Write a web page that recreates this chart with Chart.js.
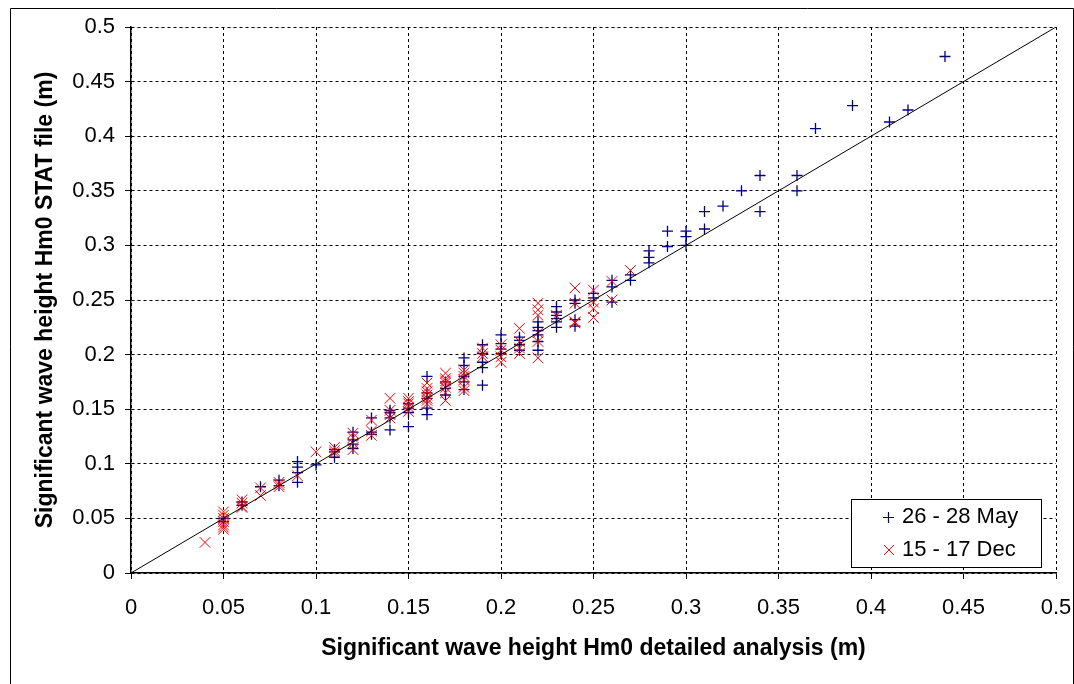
<!DOCTYPE html>
<html>
<head>
<meta charset="utf-8">
<script src="https://cdn.jsdelivr.net/npm/chart.js@4/dist/chart.umd.min.js"></script>
<style>
html,body{margin:0;padding:0;background:#fff;}
canvas{display:block;}
</style>
</head>
<body>
<canvas id="c" width="1074" height="684"></canvas>
<script>
// ---- Data ----
const seriesNames = ['26 - 28 May', '15 - 17 Dec'];
const xTickLabels = ['0','0.05','0.1','0.15','0.2','0.25','0.3','0.35','0.4','0.45','0.5'];
const yTickLabels = ['0','0.05','0.1','0.15','0.2','0.25','0.3','0.35','0.4','0.45','0.5'];
const xTitle = 'Significant wave height Hm0 detailed analysis (m)';
const yTitle = 'Significant wave height Hm0 STAT file (m)';

// 26 - 28 May: detailed analysis (x) vs STAT file (y)
const mayX = [0.05,0.05, 0.06,0.06, 0.07, 0.08,0.08, 0.09,0.09,0.09,0.09, 0.10,
  0.11,0.11,0.11, 0.12,0.12,0.12,0.12, 0.13,0.13,0.13, 0.14,0.14,0.14,0.14,
  0.15,0.15,0.15,0.15, 0.16,0.16,0.16,0.16,0.16, 0.17,0.17,0.17,
  0.18,0.18,0.18,0.18,0.18, 0.19,0.19,0.19,0.19,0.19, 0.20,0.20,0.20,0.20,
  0.21,0.21,0.21,0.21, 0.22,0.22,0.22,0.22,0.22,0.22, 0.23,0.23,0.23,0.23,0.23,0.23,
  0.24,0.24,0.24,0.24, 0.25,0.25, 0.26,0.26,0.26, 0.27,0.27, 0.28,0.28,0.28,
  0.29,0.29, 0.30,0.30,0.30, 0.31,0.31, 0.32, 0.33, 0.34,0.34, 0.36,0.36,
  0.37, 0.39, 0.41, 0.42, 0.44];
const mayY = [0.047,0.050, 0.062,0.065, 0.079, 0.085,0.080, 0.102,0.097,0.092,0.083, 0.099,
  0.111,0.113,0.106, 0.129,0.122,0.114,0.118, 0.142,0.129,0.127, 0.147,0.142,0.131,0.149,
  0.147,0.134,0.155,0.151, 0.180,0.151,0.145,0.165,0.160, 0.163,0.169,0.175,
  0.197,0.190,0.175,0.168,0.180, 0.209,0.193,0.188,0.172,0.201, 0.218,0.210,0.201,0.205,
  0.213,0.209,0.204,0.216, 0.230,0.225,0.222,0.218,0.204,0.212, 0.244,0.239,0.236,0.233,0.225,0.230,
  0.250,0.247,0.232,0.226, 0.256,0.252, 0.268,0.262,0.248, 0.273,0.268, 0.295,0.289,0.284,
  0.313,0.299, 0.313,0.308,0.300, 0.331,0.315, 0.336, 0.350, 0.364,0.331, 0.364,0.350,
  0.407, 0.428, 0.413, 0.424, 0.473];

// 15 - 17 Dec
const decX = [0.04, 0.05,0.05,0.05,0.05,0.05,0.05,0.05, 0.06,0.06,0.06,0.06, 0.07,0.07,
  0.08,0.08,0.08, 0.09, 0.10, 0.11,0.11,0.11, 0.12,0.12,0.12,0.12, 0.13,0.13,0.13,
  0.14,0.14,0.14,0.14, 0.15,0.15,0.15,0.15,0.15, 0.16,0.16,0.16,0.16,0.16,0.16,0.16,
  0.17,0.17,0.17,0.17,0.17,0.17,0.17, 0.18,0.18,0.18,0.18,0.18,0.18, 0.19,0.19,0.19,
  0.20,0.20,0.20,0.20, 0.21,0.21,0.21,0.21, 0.22,0.22,0.22,0.22,0.22,0.22, 0.23,
  0.24,0.24,0.24,0.24, 0.25,0.25,0.25,0.25, 0.26,0.26, 0.27];
const decY = [0.028, 0.056,0.053,0.050,0.047,0.044,0.042,0.040, 0.067,0.064,0.061,0.060, 0.078,0.071,
  0.083,0.079,0.081, 0.089, 0.111, 0.115,0.110,0.112, 0.128,0.119,0.113,0.124, 0.140,0.126,0.130,
  0.160,0.149,0.142,0.145, 0.160,0.155,0.152,0.148,0.157, 0.174,0.169,0.163,0.158,0.155,0.160,0.166,
  0.183,0.178,0.174,0.170,0.158,0.176,0.165, 0.186,0.183,0.180,0.177,0.170,0.167, 0.206,0.201,0.198,
  0.209,0.204,0.198,0.193, 0.224,0.212,0.206,0.201, 0.247,0.241,0.236,0.220,0.212,0.197, 0.236,
  0.261,0.247,0.230,0.229, 0.259,0.248,0.242,0.234, 0.267,0.250, 0.277];

// 1:1 reference line
const lineX = [0, 0.5];
const lineY = [0, 0.5];

const pts = (xs, ys) => xs.map((x, i) => ({x: x, y: ys[i]}));

const FONT = 'Arial, "Liberation Sans", sans-serif';
const BLUE = '#000080';
const RED = '#ff0000';

const decor = {
  id: 'decor',
  beforeDraw(chart) {
    const ctx = chart.ctx;
    ctx.save();
    ctx.fillStyle = '#fff';
    ctx.fillRect(0, 0, chart.width, chart.height);
    ctx.strokeStyle = '#000';
    ctx.lineWidth = 1;
    ctx.beginPath();
    ctx.moveTo(10.5, chart.height + 2);
    ctx.lineTo(10.5, 8.5);
    ctx.lineTo(chart.width - 0.5, 8.5);
    ctx.lineTo(chart.width - 0.5, chart.height + 2);
    ctx.stroke();
    ctx.restore();
  },
  afterDraw(chart) {
    const ctx = chart.ctx;
    ctx.save();
    // legend box
    ctx.fillStyle = '#fff';
    ctx.fillRect(851, 499, 190, 68);
    ctx.strokeStyle = '#000';
    ctx.lineWidth = 1;
    ctx.strokeRect(851.5, 499.5, 190, 68);
    // markers
    ctx.lineWidth = 1.2;
    ctx.strokeStyle = BLUE;
    ctx.beginPath();
    ctx.moveTo(883, 517.5); ctx.lineTo(894, 517.5);
    ctx.moveTo(888.5, 512); ctx.lineTo(888.5, 523);
    ctx.stroke();
    ctx.lineWidth = 1;
    ctx.strokeStyle = RED;
    ctx.beginPath();
    ctx.moveTo(884, 545); ctx.lineTo(894, 555);
    ctx.moveTo(894, 545); ctx.lineTo(884, 555);
    ctx.stroke();
    ctx.fillStyle = '#000';
    ctx.font = '22px ' + FONT;
    ctx.textBaseline = 'middle';
    ctx.textAlign = 'left';
    ctx.fillText(seriesNames[0], 902, 517);
    ctx.fillText(seriesNames[1], 902, 550);
    ctx.restore();
  }
};

new Chart(document.getElementById('c'), {
  type: 'scatter',
  data: {
    datasets: [
      {
        label: seriesNames[0],
        data: pts(mayX, mayY),
        pointStyle: 'cross',
        pointRadius: 5.5,
        pointBorderWidth: 1.3,
        borderColor: BLUE,
        backgroundColor: BLUE,
        order: 2
      },
      {
        label: seriesNames[1],
        data: pts(decX, decY),
        pointStyle: 'crossRot',
        pointRadius: 7.5,
        pointBorderWidth: 1,
        borderColor: RED,
        backgroundColor: RED,
        order: 1
      },
      {
        type: 'line',
        label: '1:1',
        data: pts(lineX, lineY),
        borderColor: '#000',
        borderWidth: 1,
        pointRadius: 0,
        fill: false,
        order: 0
      }
    ]
  },
  options: {
    responsive: false,
    animation: false,
    devicePixelRatio: 1,
    layout: { padding: { left: 0, right: 18, top: 27, bottom: 0 } },
    plugins: {
      legend: { display: false },
      tooltip: { enabled: false }
    },
    scales: {
      x: {
        type: 'linear',
        min: 0, max: 0.5,
        afterFit(s) { s.height = 111; s.paddingLeft = 0; s.paddingRight = 0; },
        ticks: {
          stepSize: 0.05,
          color: '#000',
          font: { family: FONT, size: 22 },
          padding: 16,
          maxRotation: 0,
          autoSkip: false,
          callback: (v, i) => xTickLabels[i]
        },
        grid: {
          color: '#000',
          lineWidth: 1,
          tickLength: 6,
          tickColor: '#000',
          tickBorderDash: []
        },
        border: { display: true, color: '#000', width: 1.5, dash: [3, 3] },
        title: {
          display: true,
          text: xTitle,
          color: '#000',
          font: { family: FONT, size: 23, weight: 'bold' },
          padding: { top: 0, bottom: 22 }
        }
      },
      y: {
        type: 'linear',
        min: 0, max: 0.5,
        afterFit(s) { s.width = 131; s.paddingTop = 0; s.paddingBottom = 0; },
        ticks: {
          stepSize: 0.05,
          color: '#000',
          font: { family: FONT, size: 22 },
          padding: 10,
          autoSkip: false,
          callback: (v, i) => yTickLabels[i]
        },
        grid: {
          color: '#000',
          lineWidth: 1,
          tickLength: 6,
          tickColor: '#000',
          tickBorderDash: []
        },
        border: { display: true, color: '#000', width: 1.5, dash: [3, 3] },
        title: {
          display: true,
          text: yTitle,
          color: '#000',
          font: { family: FONT, size: 23, weight: 'bold' },
          padding: { top: 32, bottom: 0 }
        }
      }
    }
  },
  plugins: [decor]
});
</script>
</body>
</html>
